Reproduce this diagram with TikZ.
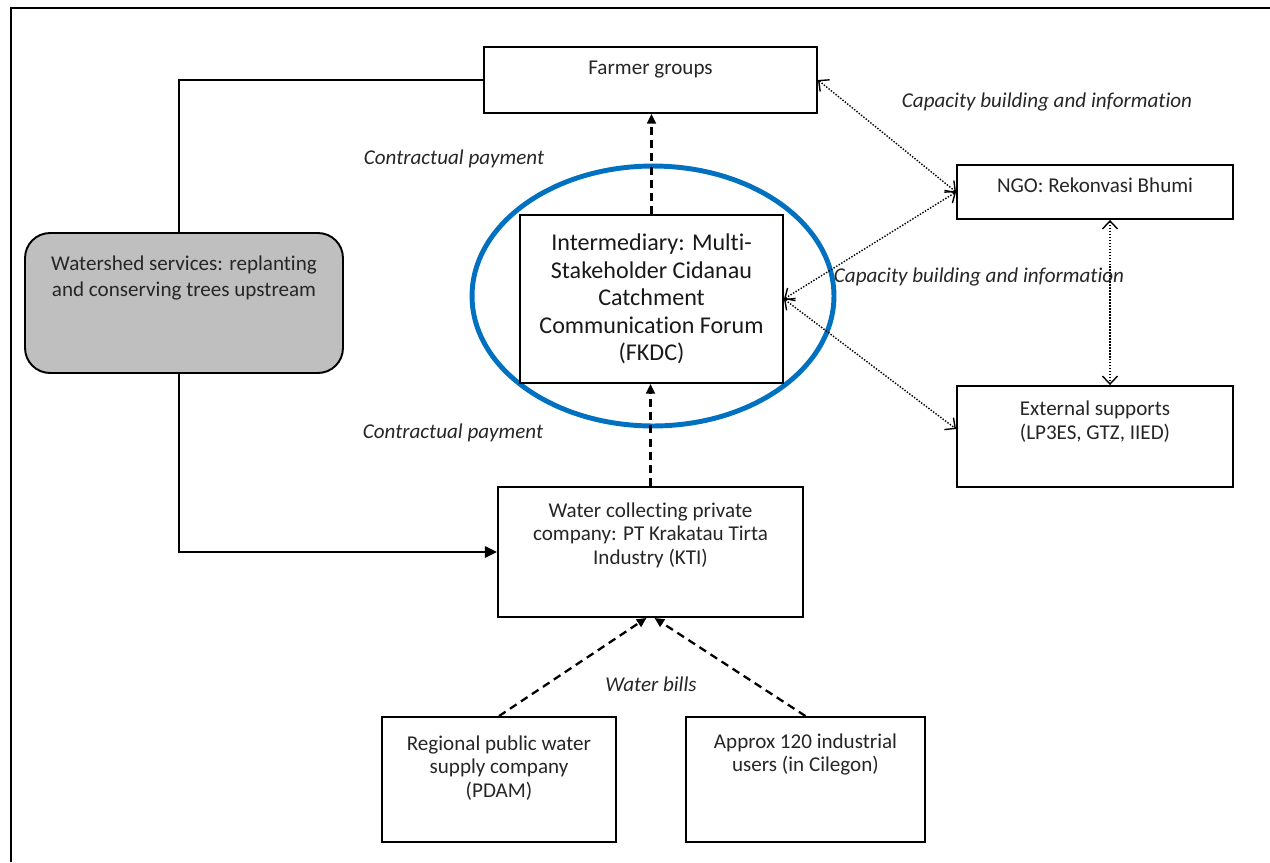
\documentclass[tikz,border=0pt]{standalone}
\usepackage{fontspec}
\setmainfont{Carlito}[Ligatures=NoCommon]
\usepackage{tikz}
\usetikzlibrary{positioning}
\usetikzlibrary{arrows.meta,shapes.geometric}
\usetikzlibrary{calc}
\definecolor{forumblue}{RGB}{0,112,192}
\definecolor{servicegray}{RGB}{191,191,191}
\tikzstyle{box}=[rectangle,draw=black,fill=white,line width=1.1pt,inner sep=0pt]
\tikzstyle{servicebox}=[rectangle,rounded corners=0.5cm,draw=black,fill=servicegray,line width=1.1pt,inner sep=0pt]
\tikzstyle{boxtext}=[anchor=north,align=center,inner sep=0pt,text=black!85,font=\fontsize{12}{13.6}\selectfont]
\tikzstyle{servicetext}=[boxtext,font=\fontsize{12}{15.3}\selectfont]
\tikzstyle{forumtext}=[align=center,text=black!90,font=\fontsize{13.7}{15.7}\selectfont]
\tikzstyle{ring}=[ellipse,draw=forumblue,line width=2.8pt,inner sep=0pt]
\tikzstyle{frameline}=[line width=1.7pt]
\tikzstyle{flow} = [draw,line width=1.1pt,-{Triangle[length=7pt,width=6.5pt]}]
\tikzstyle{payment} = [draw,line width=1.3pt,dash pattern=on 4.5pt off 3pt,-{Triangle[length=5.5pt,width=5pt]}]
\tikzstyle{support} = [draw,line width=0.8pt,dash pattern=on 0.8pt off 0.9pt,{Straight Barb[length=4.5pt,width=8.5pt,line width=0.8pt]}-{Straight Barb[length=4.5pt,width=8.5pt,line width=0.8pt]}]
\tikzstyle{edgelabel} = [inner sep=0pt,text=black!85,font=\fontsize{12}{13.6}\selectfont\itshape]

\begin{document}
\begin{tikzpicture}[x=0.02cm, y=-0.02cm]
    \useasboundingbox (0,0) rectangle (1270,862);
    \draw[frameline] (11,862) -- (11,8) -- (1270,8);

    % the blue ring goes under the forum box
    \node[ring, minimum width=7.24cm, minimum height=5.2cm] (ring) at (653,296) {};

    % First we draw the boxes
    \foreach \pos/\name/\w/\h in {{(650.5,80)/farmer/6.66/1.32}, {(1095,192)/ngo/5.52/1.08}, {(1095,436.5)/ext/5.52/2.02}, {(650.5,552)/kti/6.1/2.6}, {(499,779.5)/pdam/4.68/2.5}, {(805.5,779.5)/users/4.78/2.5}}
        \node[box, minimum width=\w cm, minimum height=\h cm] (\name) at \pos {};
    \node[servicebox, minimum width=6.36cm, minimum height=2.8cm] (service) at (184,303) {};
    \node[box, forumtext, minimum width=5.26cm, minimum height=3.36cm] (forum) at (651.5,299)
        {Intermediary: Multi-\\Stakeholder Cidanau\\Catchment\\Communication Forum\\(FKDC)};

    % texts sit at the top of their boxes
    \foreach \name/\off/\txt in {farmer/15/{Farmer groups}, ngo/13.5/{NGO: Rekonvasi Bhumi}, ext/15.5/{External supports\\(LP3ES, GTZ, IIED)}, kti/16/{Water collecting private\\company: PT Krakatau Tirta\\Industry (KTI)}, pdam/19/{Regional public water\\supply company\\(PDAM)}, users/17/{Approx 120 industrial\\users (in Cilegon)}}
        \node[boxtext] (\name-text) at ($(\name.north)+(0,\off)$) {\txt};
    \node[servicetext] (service-text) at ($(service.north)+(0,23)$) {Watershed services: replanting\\and conserving trees upstream};

    % Connect boxes
    \coordinate (service-top) at ([xshift=-0.1cm]service.north);
    \coordinate (service-bottom) at ([xshift=-0.1cm]service.south);
    \coordinate (kti-left) at ([xshift=-0.08cm]kti.south);
    \coordinate (kti-right) at ([xshift=0.08cm]kti.south);
    \coordinate (ext-in) at ([yshift=0.15cm]ext.west);
    \coordinate (ngo-low) at ([xshift=0.3cm]ngo.south);
    \coordinate (ext-top) at ([xshift=0.3cm]ext.north);
    \path[flow, -] (farmer.west) -| (service-top);
    \path[flow] (service-bottom) |- (kti.west);
    \path[payment] (forum.north) -- (forum.north |- farmer.south);
    \path[payment] (kti.north) -- (kti.north |- forum.south);
    \path[payment] (pdam.north) -- (kti-left);
    \path[payment] (users.north) -- (kti-right);
    \foreach \source/\dest in {farmer.east/ngo.west, forum.east/ngo.west, forum.east/ext-in, ngo-low/ext-top}
        \path[support] (\source) -- (\dest);

    % labels of the flows
    \node[edgelabel] (cap1) at (1047,102) {Capacity building and information};
    \node[edgelabel] (cap2) at (979,277) {Capacity building and information};
    \node[edgelabel] (pay1) at (454,159) {Contractual payment};
    \node[edgelabel] (pay2) at (453,433) {Contractual payment};
    \node[edgelabel] (bills) at (651,684) {Water bills};
\end{tikzpicture}
\end{document}
